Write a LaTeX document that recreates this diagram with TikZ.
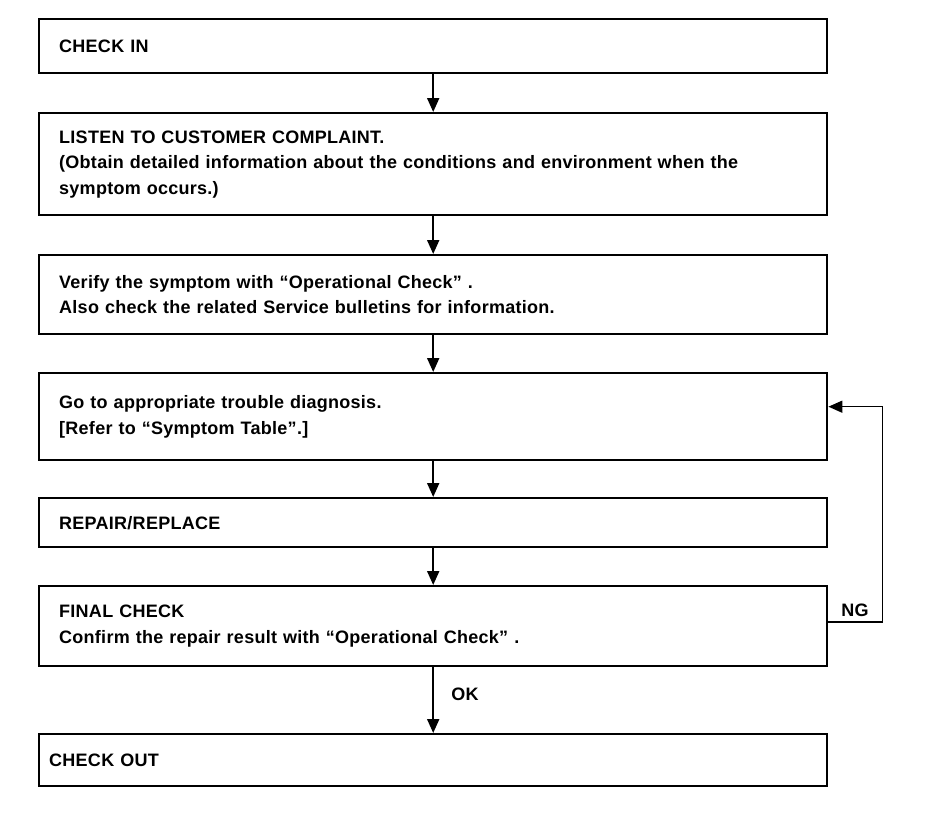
\documentclass[tikz,border=0pt]{standalone}
\usepackage{fontspec}
\setmainfont{Liberation Sans}[LetterSpace=1.5]
\usetikzlibrary{arrows.meta,positioning,calc}

\begin{document}
\begin{tikzpicture}[x=1pt, y=-1pt,
    stepbox/.style={draw, line width=2.4pt, anchor=north west,
      minimum width=788pt, text width=748pt, inner xsep=20pt, inner ysep=0pt,
      align=left, font=\bfseries\fontsize{18}{25.5}\selectfont},
    lbl/.style={font=\bfseries\fontsize{18}{25.5}\selectfont},
    flow/.style={line width=2pt, -{Triangle[length=14pt,width=12pt]}}]
  \useasboundingbox (0,0) rectangle (928,816);
  % the steps
  \node[stepbox, minimum height=54pt] (checkin) at (38,18) {CHECK IN};
  \node[stepbox, minimum height=102pt] (listen) at (38,112)
    {LISTEN TO CUSTOMER COMPLAINT.\\
     (Obtain detailed information about the conditions and environment when the\\
     symptom occurs.)};
  \node[stepbox, minimum height=79pt] (verify) at (38,254)
    {Verify the symptom with “Operational Check” .\\
     Also check the related Service bulletins for information.};
  \node[stepbox, minimum height=87pt] (diag) at (38,372)
    {Go to appropriate trouble diagnosis.\\
     {[Refer to “Symptom Table”.]}};
  \node[stepbox, minimum height=49pt] (repair) at (38,497) {REPAIR/REPLACE};
  \node[stepbox, minimum height=80pt] (final) at (38,585)
    {FINAL CHECK\\
     Confirm the repair result with “Operational Check” .};
  \node[stepbox, minimum height=52pt, inner xsep=10pt, text width=768pt] (checkout) at (38,733) {CHECK OUT};
  % flow
  \draw[flow] (checkin) -- (listen);
  \draw[flow] (listen) -- (verify);
  \draw[flow] (verify) -- (diag);
  \draw[flow] (diag) -- (repair);
  \draw[flow] (repair) -- (final);
  \draw[flow] (final) -- (checkout);
  \node[lbl] (ok) at (465,694) {OK};
  % retry loop
  \draw[line width=1.5pt, -{Triangle[length=14pt,width=12pt]}]
    ([yshift=4pt]final.east) -- ++(54,0) |- ([yshift=10pt]diag.east);
  \node[lbl] (ng) at (855,610) {NG};
\end{tikzpicture}
\end{document}
